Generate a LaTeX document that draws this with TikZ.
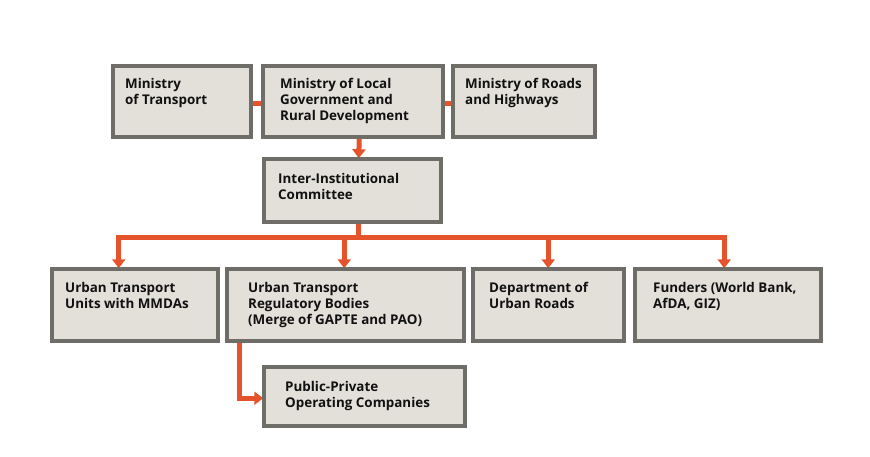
\documentclass[tikz,border=0pt]{standalone}
\usepackage{fontspec}
\setmainfont{Open Sans}
\usetikzlibrary{arrows.meta,calc}
\definecolor{boxfill}{HTML}{E3E0DA}
\definecolor{boxline}{HTML}{6E6D68}
\definecolor{conncol}{HTML}{E4532B}
\definecolor{txtcol}{HTML}{111111}
\tikzset{
  orgbox/.style={draw=boxline, fill=boxfill, line width=2.5pt, rectangle, inner sep=0pt, anchor=north west},
  orgtext/.style={inner sep=0pt, anchor=base west, text=txtcol, font=\fontsize{13.4}{16}\selectfont\bfseries},
  conn/.style={draw=conncol, line width=5pt, line join=miter},
  connarrow/.style={conn, -{Triangle[width=13pt,length=9pt]}},
}
\newcommand{\lines}[1]{\parbox[t]{250pt}{#1}}
\begin{document}
\begin{tikzpicture}[x=1pt,y=-1pt]
\useasboundingbox (0,0) rectangle (870,456);
% boxes (outer extents minus half line width)
\node[orgbox, minimum width=136.5pt, minimum height=69.5pt] (mt) at (112.25,65.25) {};
\node[orgbox, minimum width=178.5pt, minimum height=69.5pt] (ml) at (262.25,65.25) {};
\node[orgbox, minimum width=140.5pt, minimum height=69.5pt] (mr) at (452.25,65.25) {};
\node[orgbox, minimum width=175.5pt, minimum height=61.5pt] (ic) at (263.25,158.25) {};
\node[orgbox, minimum width=164.5pt, minimum height=70.5pt] (ua) at (51.25,268.25) {};
\node[orgbox, minimum width=235.5pt, minimum height=70.5pt] (ub) at (226.25,268.25) {};
\node[orgbox, minimum width=149.5pt, minimum height=70.5pt] (dr) at (472.25,268.25) {};
\node[orgbox, minimum width=184.5pt, minimum height=70.5pt] (fu) at (634.25,268.25) {};
\node[orgbox, minimum width=199.5pt, minimum height=57.5pt] (pp) at (263.25,366.25) {};
% connectors
\coordinate (hub) at (358,237);
\draw[conn] ([yshift=-2pt]mt.east) -- ([yshift=-2pt]ml.west);
\draw[conn] ([yshift=-2pt]ml.east) -- ([yshift=-2pt]mr.west);
\draw[connarrow] ([xshift=6.5pt]ml.south) -- ([xshift=6.5pt]ic.north);
\draw[conn] (ic.south -| hub) -- (hub);
\draw[connarrow] (hub) -| ([xshift=-16pt]ua.north);
\draw[connarrow] (hub) -| ([xshift=-1pt]ub.north);
\draw[connarrow] (hub) -| (dr.north);
\draw[connarrow] (hub) -| ([xshift=-3.5pt]fu.north);
\draw[connarrow] ([xshift=13pt]ub.south west) |- ([yshift=-2pt]pp.west);
% redraw box outlines over arrow tips
\foreach \n in {mt,ml,mr,ic,ua,ub,dr,fu,pp}{\draw[draw=boxline,line width=2.5pt] (\n.north west) rectangle (\n.south east);}
% texts
\node[orgtext] (tmt) at (125,88) {\lines{Ministry\\of Transport}};
\node[orgtext] (tml) at (280,88) {\lines{Ministry of Local\\Government and\\Rural Development}};
\node[orgtext] (tmr) at (465,88) {\lines{Ministry of Roads\\and Highways}};
\node[orgtext] (tic) at (278,183) {\lines{Inter-Institutional\\Committee}};
\node[orgtext] (tua) at (65,292) {\lines{Urban Transport\\Units with MMDAs}};
\node[orgtext] (tub) at (248,292) {\lines{Urban Transport\\Regulatory Bodies\\(Merge of GAPTE and PAO)}};
\node[orgtext] (tdr) at (489,292) {\lines{Department of\\Urban Roads}};
\node[orgtext] (tfu) at (653,292) {\lines{Funders (World Bank,\\AfDA, GIZ)}};
\node[orgtext] (tpp) at (285,391) {\lines{Public-Private\\Operating Companies}};
\end{tikzpicture}
\end{document}
